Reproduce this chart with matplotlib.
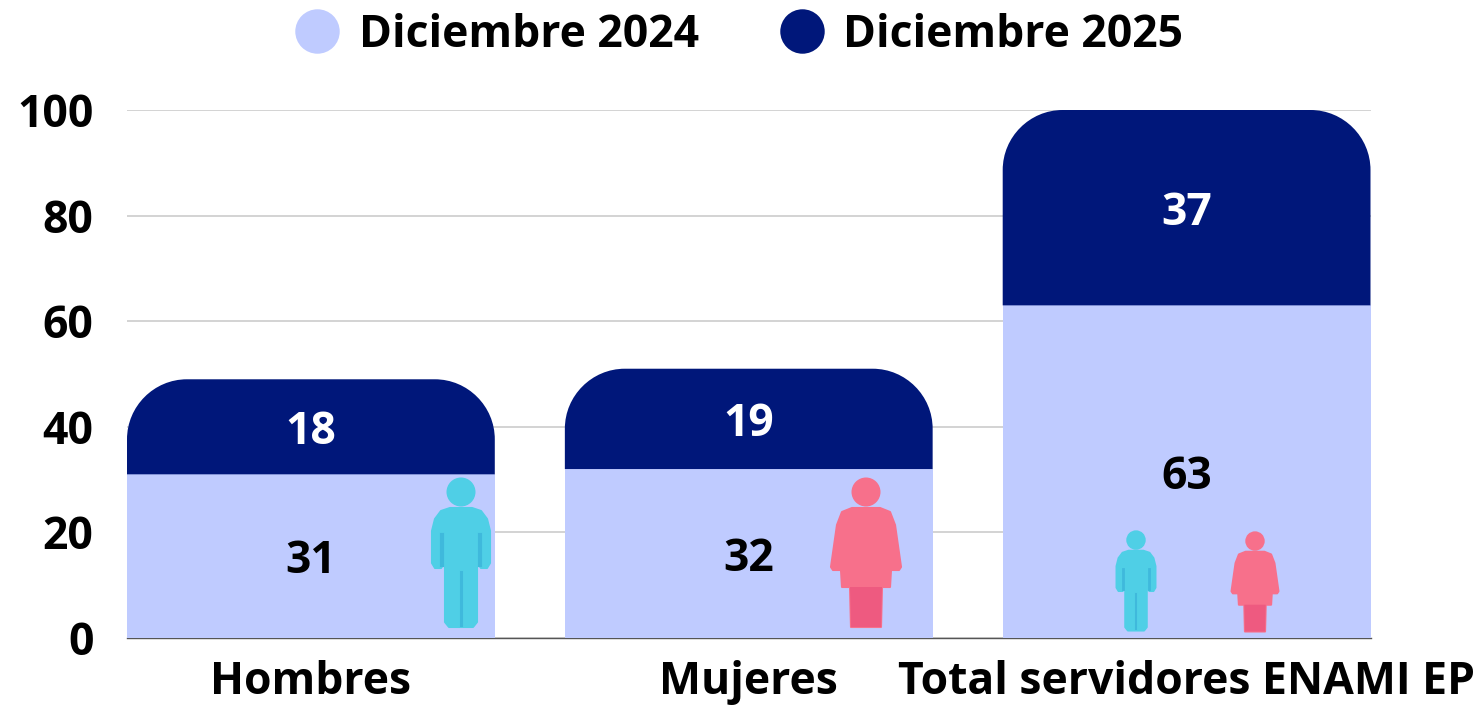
import matplotlib
matplotlib.use('Agg')
import matplotlib.pyplot as plt
from matplotlib.lines import Line2D
from matplotlib.patches import Circle, PathPatch, Polygon
from matplotlib.path import Path
from matplotlib.transforms import Affine2D

matplotlib.rcParams['font.family'] = 'Open Sans'
matplotlib.rcParams['font.weight'] = 'bold'

#Data
categories = ['Hombres', 'Mujeres', 'Total servidores ENAMI EP']
dic_2024 = [31, 32, 63]
dic_2025 = [18, 19, 37]
series_names = ['Diciembre 2024', 'Diciembre 2025']
y_ticks = [0, 20, 40, 60, 80, 100]

light = '#BFCBFF'
dark = '#00177A'
man_col = '#4FCFE6'
man_dark = '#3FB9DC'
woman_col = '#F7708B'
woman_dark = '#EE5A80'

W, H = 1480, 706
fig = plt.figure(figsize=(W/100, H/100), dpi=100)
ax = fig.add_axes([127/W, 1-638/H, (1370.5-127)/W, (638-110)/H])

bar_w = 0.84
ax.set_xlim(-bar_w/2, 2+bar_w/2)
ax.set_ylim(0, 100)

#Rounded top, radius given in pixels and converted to data units
rx = 60/438
ry = 60/5.28
k = 0.45


def rounded_top(x, bottom, top):
    l = x-bar_w/2
    r = x+bar_w/2
    verts = [(l, bottom), (l, top-ry), (l, top-ry*k), (l+rx*k, top), (l+rx, top),
             (r-rx, top), (r-rx*k, top), (r, top-ry*k), (r, top-ry), (r, bottom), (l, bottom)]
    codes = [Path.MOVETO, Path.LINETO, Path.CURVE4, Path.CURVE4, Path.CURVE4,
             Path.LINETO, Path.CURVE4, Path.CURVE4, Path.CURVE4, Path.LINETO, Path.CLOSEPOLY]
    return Path(verts, codes)


for i in range(3):
    ax.bar(i, dic_2024[i], width=bar_w, color=light, zorder=2)
    ax.add_patch(PathPatch(rounded_top(i, dic_2024[i], dic_2024[i]+dic_2025[i]), facecolor=dark, edgecolor='none', zorder=2))
    ax.annotate(str(dic_2024[i]), (i, dic_2024[i]/2), xytext=(0, -4), textcoords='offset points',
                ha='center', va='center', color='black', fontsize=32, zorder=5)
    ax.annotate(str(dic_2025[i]), (i, dic_2024[i]+dic_2025[i]/2), xytext=(0, -4), textcoords='offset points',
                ha='center', va='center', color='white', fontsize=32, zorder=5)

ax.set_xticks(range(3))
ax.set_xticklabels(categories)
ax.set_yticks(y_ticks)
ax.tick_params(axis='both', length=0, labelsize=32)
ax.tick_params(axis='x', pad=16)
ax.tick_params(axis='y', pad=24)
ax.grid(axis='y', color='#CCCCCC', lw=1.2, zorder=0)
ax.set_axisbelow(True)
for s in ['top', 'left', 'right']:
    ax.spines[s].set_visible(False)
ax.spines['bottom'].set_color('#555555')
ax.spines['bottom'].set_linewidth(1)
ax.spines['bottom'].set_zorder(1)

#Person icons drawn in pixels, origin at top of head, y going down
man_body = [(-11, 31), (11, 31), (20, 34), (26, 42), (29, 54), (29, 86), (26, 91), (20, 91), (16, 85),
            (16, 145), (12, 150), (-12, 150), (-16, 145), (-16, 85), (-20, 91), (-26, 91), (-29, 86),
            (-29, 54), (-26, 42), (-20, 34)]
woman_body = [(-14, 31), (14, 31), (24, 35), (29, 48), (35, 90), (33, 93), (25, 93), (24, 110), (16, 110),
              (15, 150), (-15, 150), (-16, 110), (-24, 110), (-25, 93), (-33, 93), (-35, 90), (-29, 48), (-24, 35)]
woman_legs = [(-16, 110), (16, 110), (15, 150), (-15, 150)]


def person(cx, top, scale, body, col, shade):
    tr = Affine2D().scale(scale, -scale).translate(cx, H-top)
    art = [Circle((0, 15), 14.5, transform=tr, facecolor=col, edgecolor='none'),
           Polygon(body, closed=True, transform=tr, facecolor=col, edgecolor=col, lw=1.5, joinstyle='round')]
    if body is man_body:
        art.append(Line2D([0, 0], [95, 148], transform=tr, color=shade, lw=2.2*scale))
        art.append(Line2D([-19, -19], [58, 88], transform=tr, color=shade, lw=3*scale))
        art.append(Line2D([19, 19], [58, 88], transform=tr, color=shade, lw=3*scale))
    else:
        art.append(Polygon(woman_legs, closed=True, transform=tr, facecolor=shade, edgecolor='none'))
    for a in art:
        a.set_zorder(4)
        a.set_clip_on(False)
        ax.add_artist(a)


person(461, 477, 1.0, man_body, man_col, man_dark)
person(866, 477, 1.0, woman_body, woman_col, woman_dark)
person(1136, 530, 0.67, man_body, man_col, man_dark)
person(1255, 531, 0.67, woman_body, woman_col, woman_dark)

#Legend
handles = [Line2D([], [], ls='none', marker='o', ms=32, mfc=light, mec='none'),
           Line2D([], [], ls='none', marker='o', ms=32, mfc=dark, mec='none')]
fig.legend(handles, series_names, loc='center', bbox_to_anchor=(737/W, 1-35.5/H), ncol=2, frameon=False,
           fontsize=32, handletextpad=0.33, columnspacing=1.72, borderpad=0, handlelength=1.2)

fig.savefig('out.png', dpi=100)
